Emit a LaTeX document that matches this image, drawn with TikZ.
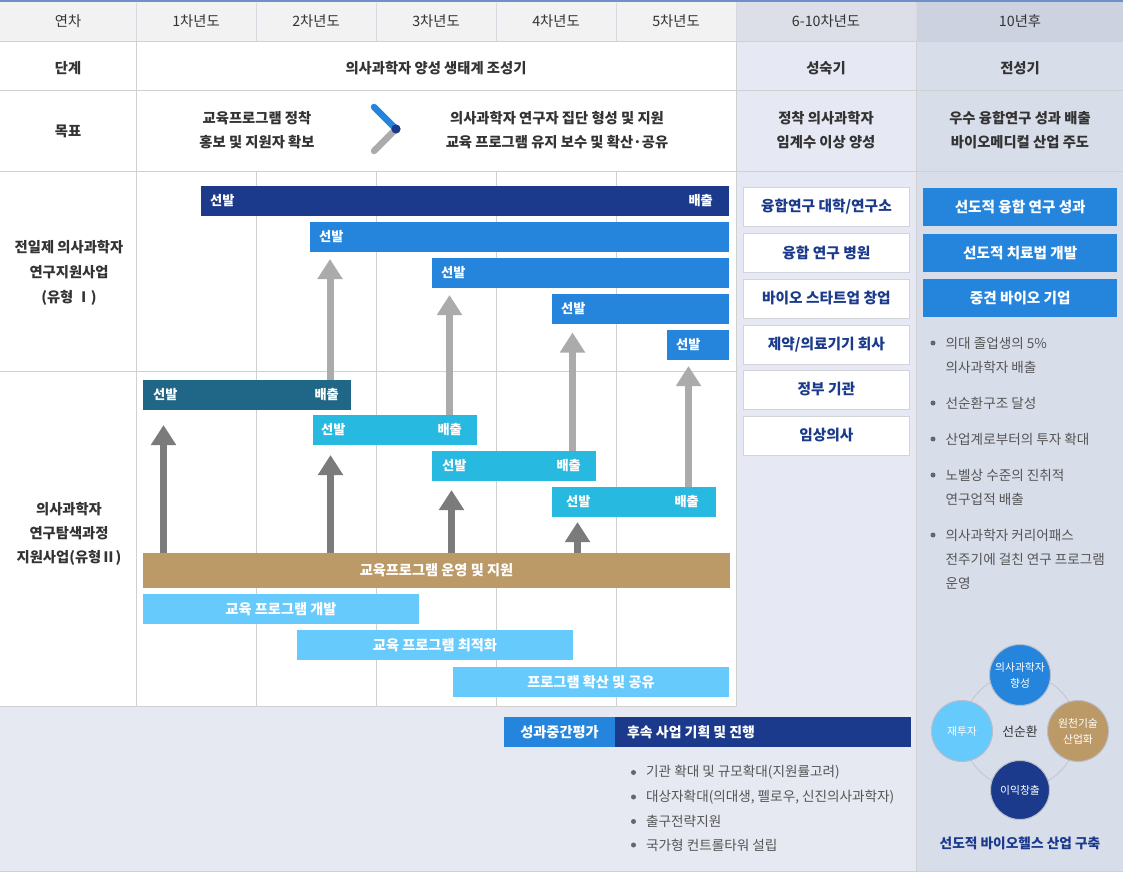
\documentclass[tikz,border=0pt]{standalone}
\usepackage{fontspec}
\setmainfont{Noto Sans CJK KR}
\usetikzlibrary{arrows.meta}
\definecolor{navy}{HTML}{1B3A8C}
\definecolor{mblue}{HTML}{2585DD}
\definecolor{mteal}{HTML}{1F6687}
\definecolor{mcyan}{HTML}{27B9DF}
\definecolor{mtan}{HTML}{BB9A68}
\definecolor{lblue}{HTML}{66CAFC}
\definecolor{lgarrow}{HTML}{ABABAB}
\definecolor{dgarrow}{HTML}{7B7B7B}
\definecolor{tdark}{HTML}{333333}
\definecolor{tbul}{HTML}{555555}
\definecolor{dotc}{HTML}{666666}
\definecolor{headbg}{HTML}{F2F2F2}
\definecolor{colsixbg}{HTML}{E6E9F3}
\definecolor{colsixhead}{HTML}{DCDFE8}
\definecolor{coltenbg}{HTML}{D8DDEA}
\definecolor{coltenhead}{HTML}{CDD2E0}
\definecolor{bottombg}{HTML}{E6E9F2}
\definecolor{gridc}{HTML}{D0D0D0}
\definecolor{hdiv}{HTML}{D8D8E0}
\definecolor{topline}{HTML}{6E8FCA}
\definecolor{boxborder}{HTML}{D2D4DA}
\definecolor{ringc}{HTML}{C3C7D0}
\definecolor{circborder}{HTML}{B9BDC7}
\begin{document}
\begin{tikzpicture}[x=1pt,y=-1pt,
  gridline/.style={draw=gridc, line width=1pt},
  hdivline/.style={draw=hdiv, line width=0.7pt},
  hdr/.style={font=\fontsize{14.3}{16}\selectfont, text=tdark, inner sep=0},
  lab/.style={font=\bfseries\fontsize{14.3}{24}\selectfont, text=tdark, align=center, inner sep=0},
  barbox/.style={inner sep=0, outer sep=0, anchor=north west, draw=none, minimum height=29.5pt},
  btxt/.style={font=\bfseries\fontsize{13.2}{15}\selectfont, text=white, inner sep=0},
  bartext/.style={font=\bfseries\fontsize{14.2}{16}\selectfont, text=white},
  boxsix/.style={draw=boxborder, fill=white, line width=0.8pt, minimum width=166pt, minimum height=39pt, anchor=north west, inner sep=0, font=\bfseries\fontsize{14.7}{16}\selectfont, text=navy},
  boxten/.style={fill=mblue, minimum width=194pt, minimum height=37.5pt, anchor=north west, inner sep=0, font=\bfseries\fontsize{14.6}{16}\selectfont, text=white},
  bul/.style={font=\fontsize{13.6}{24}\selectfont, text=tbul, align=left, anchor=west, inner sep=0},
  bdot/.style={circle, fill=dotc, inner sep=0, minimum size=5pt},
  ltarrow/.style={draw=lgarrow, line width=7pt, -{Triangle[width=24pt,length=20pt]}},
  dkarrow/.style={draw=dgarrow, line width=7pt, -{Triangle[width=24pt,length=20pt]}},
  circnode/.style={circle, draw=circborder, line width=1pt, minimum size=61pt, inner sep=0, text=white, align=center, font=\fontsize{10.8}{16}\selectfont}
]
\useasboundingbox (0,0) rectangle (1123,872);
% backgrounds
\fill[white] (0,0) rectangle (1123,872);
\fill[headbg] (0,2) rectangle (736,42);
\fill[colsixhead] (736,2) rectangle (916,42);
\fill[coltenhead] (916,2) rectangle (1123,42);
\fill[colsixbg] (736,42) rectangle (916,871);
\fill[coltenbg] (916,42) rectangle (1123,871);
\fill[bottombg] (0,706) rectangle (916,871);
\fill[topline] (0,0) rectangle (1123,2.2);
% grid lines
\draw[gridline] (0,41.5) -- (1123,41.5);
\draw[gridline] (0,91) -- (1123,91);
\draw[gridline] (0,171) -- (1123,171);
\draw[gridline] (0,371.5) -- (736,371.5);
\draw[gridline] (0,706) -- (736,706);
\draw[gridline] (0,871) -- (1123,871);
\draw[gridline] (136,42) -- (136,706);
\draw[gridline] (736,42) -- (736,706);
\draw[gridline] (916,42) -- (916,871);
\foreach \gx in {256,376,496,616} {\draw[gridline] (\gx,171) -- (\gx,706);}
\foreach \gx in {136,256,376,496,616,736,916} {\draw[hdivline] (\gx,3) -- (\gx,41);}
% header texts
\node[hdr] (h0) at (68,21) {연차};
\node[hdr] (h1) at (196,21) {1차년도};
\node[hdr] (h2) at (316,21) {2차년도};
\node[hdr] (h3) at (436,21) {3차년도};
\node[hdr] (h4) at (556,21) {4차년도};
\node[hdr] (h5) at (676,21) {5차년도};
\node[hdr] (h6) at (826,21) {6-10차년도};
\node[hdr] (h7) at (1020,21) {10년후};
% stage row
\node[lab] (s0) at (68,68) {단계};
\node[lab] (s1) at (436,68) {의사과학자 양성 생태계 조성기};
\node[lab] (s2) at (826,68) {성숙기};
\node[lab] (s3) at (1020,68) {전성기};
% goal row
\node[lab] (g0) at (68,131) {목표};
\node[lab] (g1) at (257,130) {교육프로그램 정착\\홍보 및 지원자 확보};
\node[lab] (g2) at (557,130) {의사과학자 연구자 집단 형성 및 지원\\교육 프로그램 유지 보수 및 확산·공유};
\node[lab] (g3) at (826,130) {정착 의사과학자\\임계수 이상 양성};
\node[lab] (g4) at (1020,130) {우수 융합연구 성과 배출\\바이오메디컬 산업 주도};
% chevron
\coordinate (cvt) at (374,107);
\coordinate (cvm) at (396,129);
\coordinate (cvb) at (374,151);
\draw[lgarrow, line width=6.5pt, line cap=round] (cvm) -- (cvb);
\draw[mblue, line width=6.5pt, line cap=round] (cvt) -- (cvm);
\fill[navy] (cvm) circle (4.6);
% left labels
\node[lab, font=\bfseries\fontsize{14.3}{25}\selectfont] (l1) at (69,273) {전일제 의사과학자\\연구지원사업\\(유형 Ⅰ)};
\node[lab] (l2) at (69,534) {의사과학자\\연구탐색과정\\지원사업(유형Ⅱ)};
% arrow tips
\coordinate (a1) at (330,259);
\coordinate (a2) at (449.5,295);
\coordinate (a3) at (572.5,332.5);
\coordinate (a4) at (688.5,366);
\coordinate (d1) at (163.5,425);
\coordinate (d2) at (330.5,455);
\coordinate (d3) at (451.5,490);
\coordinate (d4) at (577.5,522);
% type I bars
\node[barbox, fill=navy, minimum width=528pt] (b1) at (201,186) {};
\node[barbox, fill=mblue, minimum width=419pt] (b2) at (310,222) {};
\node[barbox, fill=mblue, minimum width=297pt] (b3) at (432,258) {};
\node[barbox, fill=mblue, minimum width=177pt] (b4) at (552,294) {};
\node[barbox, fill=mblue, minimum width=62pt] (b5) at (667,330) {};
% type II bars
\node[barbox, fill=mteal, minimum width=208pt] (t1) at (143,380) {};
\node[barbox, fill=mcyan, minimum width=164pt] (t2) at (313,415) {};
\node[barbox, fill=mcyan, minimum width=164pt] (t3) at (432,451) {};
\node[barbox, fill=mcyan, minimum width=164pt] (t4) at (552,487) {};
\node[barbox, bartext, fill=mtan, minimum width=587pt, minimum height=35pt] (tan) at (143,553) {교육프로그램 운영 및 지원};
\node[barbox, bartext, fill=lblue, minimum width=276pt] (p1) at (143,594) {교육 프로그램 개발};
\node[barbox, bartext, fill=lblue, minimum width=276pt] (p2) at (297,630) {교육 프로그램 최적화};
\node[barbox, bartext, fill=lblue, minimum width=276pt] (p3) at (453,667) {프로그램 확산 및 공유};
% arrows
\draw[ltarrow] (t1.north -| a1) -- (a1);
\draw[ltarrow] (t2.north -| a2) -- (a2);
\draw[ltarrow] (t3.north -| a3) -- (a3);
\draw[ltarrow] (t4.north -| a4) -- (a4);
\draw[dkarrow] (tan.north -| d1) -- (d1);
\draw[dkarrow] (tan.north -| d2) -- (d2);
\draw[dkarrow] (tan.north -| d3) -- (d3);
\draw[dkarrow] (tan.north -| d4) -- (d4);
% bar labels
\node[btxt, anchor=west] (b1s) at ([xshift=9pt]b1.west) {선발};
\node[btxt, anchor=east] (b1e) at ([xshift=-16pt]b1.east) {배출};
\node[btxt, anchor=west] (b2s) at ([xshift=9pt]b2.west) {선발};
\node[btxt, anchor=west] (b3s) at ([xshift=9pt]b3.west) {선발};
\node[btxt, anchor=west] (b4s) at ([xshift=9pt]b4.west) {선발};
\node[btxt, anchor=west] (b5s) at ([xshift=9pt]b5.west) {선발};
\node[btxt, anchor=west] (t1s) at ([xshift=10pt]t1.west) {선발};
\node[btxt, anchor=east] (t1e) at ([xshift=-12pt]t1.east) {배출};
\node[btxt, anchor=west] (t2s) at ([xshift=8pt]t2.west) {선발};
\node[btxt, anchor=east] (t2e) at ([xshift=-15pt]t2.east) {배출};
\node[btxt, anchor=west] (t3s) at ([xshift=10pt]t3.west) {선발};
\node[btxt, anchor=east] (t3e) at ([xshift=-15pt]t3.east) {배출};
\node[btxt, anchor=west] (t4s) at ([xshift=14pt]t4.west) {선발};
\node[btxt, anchor=east] (t4e) at ([xshift=-17pt]t4.east) {배출};
% 6-10 column boxes
\node[boxsix] (k1) at (743,187) {융합연구 대학/연구소};
\node[boxsix] (k2) at (743,233) {융합 연구 병원};
\node[boxsix] (k3) at (743,278.5) {바이오 스타트업 창업};
\node[boxsix] (k4) at (743,324.5) {제약/의료기기 회사};
\node[boxsix] (k5) at (743,369.5) {정부 기관};
\node[boxsix] (k6) at (743,415.5) {임상의사};
% 10-year column
\node[boxten] (m1) at (923,188) {선도적 융합 연구 성과};
\node[boxten] (m2) at (923,234) {선도적 치료법 개발};
\node[boxten] (m3) at (923,279) {중견 바이오 기업};
\node[bdot] (r1d) at (933,343) {};
\node[bul] (r1) at (945.5,355) {의대 졸업생의 5\%\\의사과학자 배출};
\node[bdot] (r2d) at (933,403) {};
\node[bul] (r2) at (945.5,403) {선순환구조 달성};
\node[bdot] (r3d) at (933,439) {};
\node[bul] (r3) at (945.5,439) {산업계로부터의 투자 확대};
\node[bdot] (r4d) at (933,475) {};
\node[bul] (r4) at (945.5,487) {노벨상 수준의 진취적\\연구업적 배출};
\node[bdot] (r5d) at (933,535) {};
\node[bul] (r5) at (945.5,559) {의사과학자 커리어패스\\전주기에 걸친 연구 프로그램\\운영};
% cycle diagram
\coordinate (cc) at (1020,731);
\draw[ringc, line width=0.9pt] (cc) circle (57);
\node[font=\fontsize{12.8}{14}\selectfont, text=tdark, inner sep=0] (cct) at (1020,732) {선순환};
\node[circnode, fill=mblue] (c1) at (1020,675) {의사과학자\\향성};
\node[circnode, fill=mtan] (c2) at (1078,731) {원천기술\\산업화};
\node[circnode, fill=navy, minimum size=59pt] (c3) at (1020,790) {이익창출};
\node[circnode, fill=lblue] (c4) at (962,731) {재투자};
\node[font=\bfseries\fontsize{13.7}{15}\selectfont, text=navy, inner sep=0] (ctitle) at (1020,843) {선도적 바이오헬스 산업 구축};
% bottom band
\node[barbox, bartext, fill=mblue, minimum width=111pt] (ev) at (504,717) {성과중간평가};
\node[barbox, fill=navy, minimum width=296pt] (nx) at (615,717) {};
\node[btxt, font=\bfseries\fontsize{13.9}{16}\selectfont, anchor=west] (nxt) at ([xshift=12pt]nx.west) {후속 사업 기획 및 진행};
\node[bdot] (q1d) at (633.5,772.5) {};
\node[bul] (q1) at (646,772.5) {기관 확대 및 규모확대(지원률고려)};
\node[bdot] (q2d) at (633.5,797) {};
\node[bul] (q2) at (646,797) {대상자확대(의대생, 펠로우, 신진의사과학자)};
\node[bdot] (q3d) at (633.5,821.5) {};
\node[bul] (q3) at (646,821.5) {출구전략지원};
\node[bdot] (q4d) at (633.5,845) {};
\node[bul] (q4) at (646,845) {국가형 컨트롤타워 설립};
\end{tikzpicture}
\end{document}
